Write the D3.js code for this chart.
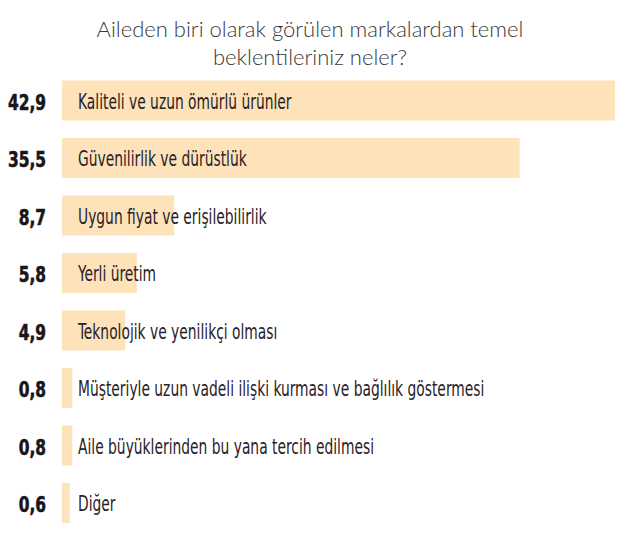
<!DOCTYPE html>
<html>
<head>
<meta charset="utf-8">
<script src="https://cdn.jsdelivr.net/npm/d3@7"></script>
<style>
  body { margin: 0; background: #fff; }
</style>
</head>
<body>
<div id="chart"></div>
<script>
// data
const titleLines = ["Aileden biri olarak görülen markalardan temel", "beklentileriniz neler?"];
const categories = [
  "Kaliteli ve uzun ömürlü ürünler",
  "Güvenilirlik ve dürüstlük",
  "Uygun fiyat ve erişilebilirlik",
  "Yerli üretim",
  "Teknolojik ve yenilikçi olması",
  "Müşteriyle uzun vadeli ilişki kurması ve bağlılık göstermesi",
  "Aile büyüklerinden bu yana tercih edilmesi",
  "Diğer"
];
const values = [42.9, 35.5, 8.7, 5.8, 4.9, 0.8, 0.8, 0.6];
const valueLabels = ["42,9", "35,5", "8,7", "5,8", "4,9", "0,8", "0,8", "0,6"];

const width = 620, height = 545;
// no condensed face installed, so squeeze DejaVu horizontally
const narrow = "'DejaVu Sans Condensed', 'DejaVu Sans', sans-serif";

const svg = d3.select("#chart")
  .append("svg")
  .attr("width", width)
  .attr("height", height);

// title
svg.append("g")
  .selectAll("text")
  .data(titleLines)
  .join("text")
    .attr("x", 310)
    .attr("y", (d, i) => 37 + i * 28)
    .attr("text-anchor", "middle")
    .style("font-family", "Lato, 'Open Sans', sans-serif")
    .style("font-weight", 300)
    .style("font-size", "22px")
    .style("fill", "#3a3a3a")
    .text(d => d);

const rows = categories.map((c, i) => ({cat: c, value: values[i], label: valueLabels[i]}));

// scales
const x = d3.scaleLinear()
  .domain([0, d3.max(values)])
  .range([62, 615]);

const y = d3.scaleBand()
  .domain(categories)
  .range([80.5, 523])
  .paddingInner(0.304)
  .paddingOuter(0);

// bars
svg.append("g")
  .selectAll("rect")
  .data(rows)
  .join("rect")
    .attr("x", x(0))
    .attr("y", d => y(d.cat))
    .attr("width", d => x(d.value) - x(0))
    .attr("height", y.bandwidth())
    .style("fill", "#fde2ba");

// labels inside bars
svg.append("g")
  .selectAll("text")
  .data(rows)
  .join("text")
    .attr("transform", d => `translate(78,${y(d.cat) + y.bandwidth() / 2 + 8.3}) scale(0.7,1)`)
    .style("font-family", narrow)
    .style("font-size", "22px")
    .style("fill", "#2a2228")
    .text(d => d.cat);

// values on the left (a thin stroke to get the heavy look)
svg.append("g")
  .selectAll("text")
  .data(rows)
  .join("text")
    .attr("transform", d => `translate(46,${y(d.cat) + y.bandwidth() / 2 + 9.3}) scale(0.78,1)`)
    .attr("text-anchor", "end")
    .style("font-family", narrow)
    .style("font-weight", "bold")
    .style("font-size", "22px")
    .style("fill", "#1a1618")
    .style("stroke", "#1a1618")
    .style("stroke-width", 0.6)
    .text(d => d.label);
</script>
</body>
</html>
